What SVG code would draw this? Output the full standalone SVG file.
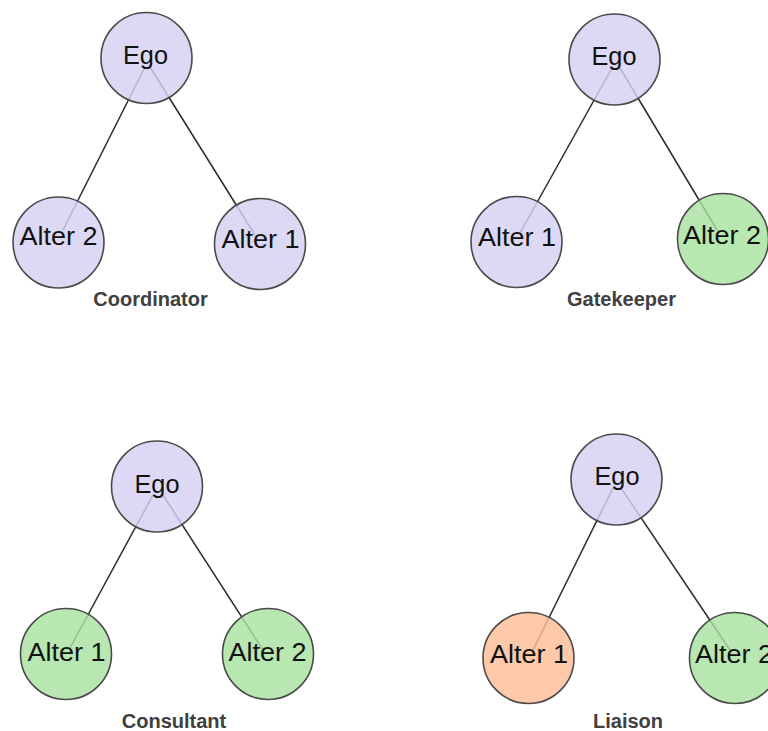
<svg xmlns="http://www.w3.org/2000/svg" width="768" height="731" viewBox="0 0 768 731">
<style>
.edge{stroke:#2a2a2a;stroke-width:1.5;fill:none}
.n circle{stroke:#4a4a4a;stroke-width:1.6;fill-opacity:0.82}
.lav circle{fill:#d6d1f2}
.grn circle{fill:#a8e2a0}
.org circle{fill:#fdbd95}
.n text{font-family:"Liberation Sans",Arial,sans-serif;font-size:25px;fill:#111;text-anchor:middle}
.cap{font-family:"Liberation Sans",Arial,sans-serif;font-size:20px;font-weight:bold;fill:#404040;text-anchor:middle}
</style>
<rect width="768" height="731" fill="#ffffff"/>
<g id="connectors">
<line class="edge" x1="145" y1="67" x2="63" y2="230"/>
<line class="edge" x1="150" y1="67" x2="255" y2="235"/>
<line class="edge" x1="612" y1="68" x2="520" y2="233"/>
<line class="edge" x1="620" y1="68" x2="717" y2="230"/>
<line class="edge" x1="153" y1="495" x2="70" y2="648"/>
<line class="edge" x1="163" y1="495" x2="263" y2="650"/>
<line class="edge" x1="613" y1="488" x2="533" y2="650"/>
<line class="edge" x1="621" y1="488" x2="730" y2="650"/>
</g>
<g id="coord-ego" class="n lav"><circle cx="146.5" cy="58" r="45.5"/><text x="145.5" y="64" textLength="45" lengthAdjust="spacingAndGlyphs">Ego</text></g>
<g id="coord-alter2" class="n lav"><circle cx="58.5" cy="242.5" r="45.5"/><text x="58.5" y="245" textLength="78" lengthAdjust="spacingAndGlyphs">Alter 2</text></g>
<g id="coord-alter1" class="n lav"><circle cx="260" cy="244" r="45.5"/><text x="260.5" y="248" textLength="78" lengthAdjust="spacingAndGlyphs">Alter 1</text></g>
<text id="cap-coordinator" class="cap" x="150.5" y="306">Coordinator</text>

<g id="gate-ego" class="n lav"><circle cx="614.5" cy="59.5" r="45.5"/><text x="614" y="65" textLength="45" lengthAdjust="spacingAndGlyphs">Ego</text></g>
<g id="gate-alter1" class="n lav"><circle cx="516.5" cy="242" r="45.5"/><text x="517" y="246" textLength="78" lengthAdjust="spacingAndGlyphs">Alter 1</text></g>
<g id="gate-alter2" class="n grn"><circle cx="723" cy="239" r="45.5"/><text x="722" y="243.5" textLength="78" lengthAdjust="spacingAndGlyphs">Alter 2</text></g>
<text id="cap-gatekeeper" class="cap" x="621.5" y="306">Gatekeeper</text>

<g id="cons-ego" class="n lav"><circle cx="157" cy="486.5" r="45.5"/><text x="157" y="492.5" textLength="45" lengthAdjust="spacingAndGlyphs">Ego</text></g>
<g id="cons-alter1" class="n grn"><circle cx="66" cy="654" r="45.5"/><text x="66.5" y="660.5" textLength="78" lengthAdjust="spacingAndGlyphs">Alter 1</text></g>
<g id="cons-alter2" class="n grn"><circle cx="268" cy="654" r="45.5"/><text x="267.5" y="660.5" textLength="78" lengthAdjust="spacingAndGlyphs">Alter 2</text></g>
<text id="cap-consultant" class="cap" x="174" y="728">Consultant</text>

<g id="liai-ego" class="n lav"><circle cx="616.5" cy="479.5" r="45.5"/><text x="617" y="485" textLength="45" lengthAdjust="spacingAndGlyphs">Ego</text></g>
<g id="liai-alter1" class="n org"><circle cx="528.5" cy="658" r="45.5"/><text x="529" y="663" textLength="78" lengthAdjust="spacingAndGlyphs">Alter 1</text></g>
<g id="liai-alter2" class="n grn"><circle cx="735" cy="658" r="45.5"/><text x="734" y="663" textLength="78" lengthAdjust="spacingAndGlyphs">Alter 2</text></g>
<text id="cap-liaison" class="cap" x="628" y="728">Liaison</text>
</svg>
